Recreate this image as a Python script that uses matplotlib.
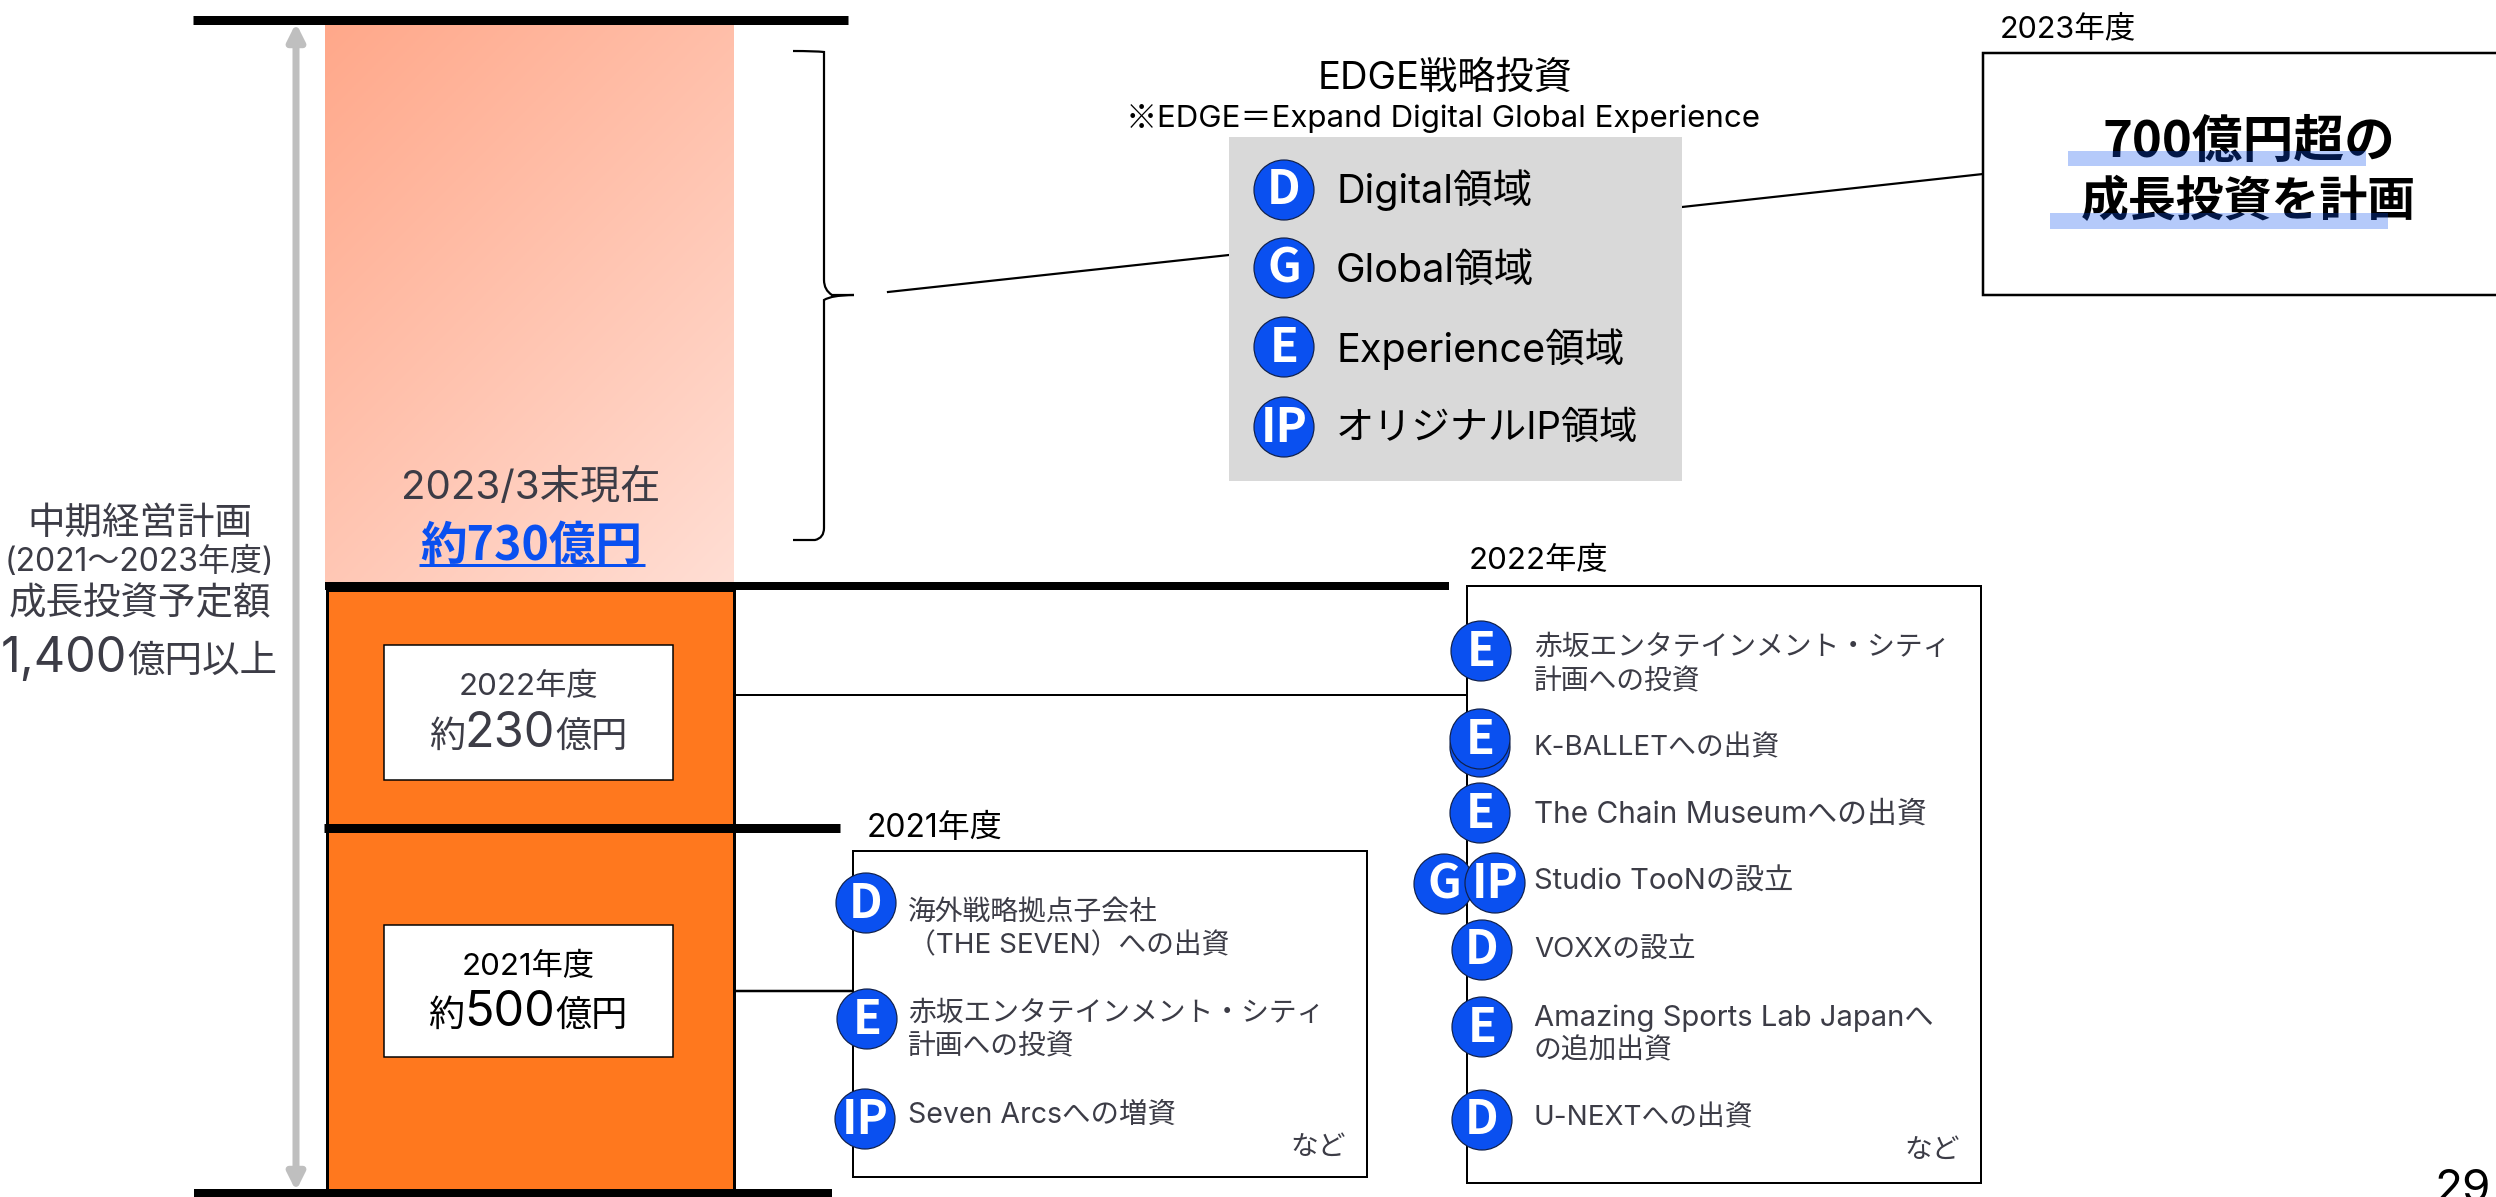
import matplotlib
matplotlib.use("Agg")
import matplotlib.pyplot as plt
import numpy as np
from matplotlib.patches import Rectangle, Circle, PathPatch
from matplotlib.path import Path

plt.rcParams['font.family'] = ['Inter', 'Noto Sans CJK JP', 'DejaVu Sans']
BOLD_FAMILY = ['Noto Sans CJK JP', 'DejaVu Sans']

W, H = 2496, 1197
TEXT_DARK = "#3c3c46"
BLUE = "#0a50f0"
ORANGE = "#ff781e"

# values and labels
years = ["2021年度", "2022年度", "2023年度"]
amounts = ["500", "230", "730"]
edge_letters = ["D", "G", "E", "IP"]
edge_labels = ["Digital領域", "Global領域", "Experience領域", "オリジナルIP領域"]

items_2021 = [
    ("D", "海外戦略拠点子会社"),
    ("", "（THE SEVEN）への出資"),
    ("E", "赤坂エンタテインメント・シティ"),
    ("", "計画への投資"),
    ("IP", "Seven Arcsへの増資"),
]
items_2022 = [
    ("E", "赤坂エンタテインメント・シティ"),
    ("", "計画への投資"),
    ("E", "K-BALLETへの出資"),
    ("E", "The Chain Museumへの出資"),
    ("IP", "Studio TooNの設立"),
    ("D", "VOXXの設立"),
    ("E", "Amazing Sports Lab Japanへ"),
    ("", "の追加出資"),
    ("D", "U-NEXTへの出資"),
]

fig = plt.figure(figsize=(W / 100, H / 100), dpi=100)
ax = fig.add_axes([0, 0, 1, 1])
ax.set_xlim(0, W)
ax.set_ylim(H, 0)
ax.axis("off")


def px(v):
    return v * 0.72


def hline(x0, x1, y, lw, color="black", z=3):
    ax.plot([x0, x1], [y, y], color=color, lw=px(lw), solid_capstyle="butt", zorder=z)


def box(x0, y0, x1, y1, face="white", edge="black", lw=2, z=2):
    ax.add_patch(Rectangle((x0, y0), x1 - x0, y1 - y0, facecolor=face, edgecolor=edge,
                           linewidth=px(lw), zorder=z))


def label(x, y, s, size, ha="left", color="black", z=6):
    return ax.text(x, y, s, fontsize=size, ha=ha, va="center", color=color, zorder=z)


def bold_label(x, y, s, size, ha="center", color="black", z=4):
    return ax.text(x, y, s, fontsize=size, ha=ha, va="center", color=color, weight="bold",
                   family=BOLD_FAMILY, zorder=z)


def badge(x, y, letter, z=5):
    ax.add_patch(Circle((x, y), 30, facecolor=BLUE, edgecolor="#10204a", linewidth=px(1.2), zorder=z))
    bold_label(x, y + 0.5, letter, 34, color="white", z=z + 0.1)


def mixed(cx, y, parts, color=TEXT_DARK):
    # parts of different size on one baseline, centred on cx
    renderer = fig.canvas.get_renderer()
    objs = []
    for s, size in parts:
        objs.append(ax.text(0, y, s, fontsize=size, ha="left", va="baseline", color=color, zorder=6))
    widths = [o.get_window_extent(renderer).width for o in objs]
    x = cx - sum(widths) / 2
    for o, w in zip(objs, widths):
        o.set_x(x)
        x += w


# gradient part of the bar (2023)
grad_x0, grad_x1, grad_y0, grad_y1 = 325, 734, 24, 582
gx, gy = np.meshgrid(np.linspace(0, 1, 200), np.linspace(0, 1, 300))
t = (gx * 0.55 + gy * 0.75) / 1.3
c0 = np.array([255, 168, 138]) / 255
c1 = np.array([255, 222, 212]) / 255
img = c0[None, None, :] + (c1 - c0)[None, None, :] * t[:, :, None]
ax.imshow(img, extent=[grad_x0, grad_x1, grad_y1, grad_y0], aspect="auto", zorder=1)
ax.set_xlim(0, W)
ax.set_ylim(H, 0)

# orange part of the bar
box(327, 590, 734, 1190, face=ORANGE, edge="black", lw=3)

# horizontal black rules
hline(193, 848, 19.5, 9)
hline(325, 1449, 586, 8)
hline(324, 840, 828, 9)
hline(194, 832, 1193, 8)

# grey double arrow
ax.annotate("", xy=(296, 23), xytext=(296, 1191),
            arrowprops=dict(arrowstyle="<|-|>,head_length=1.0,head_width=0.5", color="#bfbfbf",
                            lw=px(7), shrinkA=0, shrinkB=0), zorder=2)

# white amount boxes
box(384, 645, 673, 780, lw=1.5, z=4)
box(384, 925, 673, 1057, lw=1.5, z=4)
label(528, 686, years[1], 22.5, ha="center", color=TEXT_DARK)
mixed(528, 747, [("約", 26), (amounts[1], 35), ("億円", 26)])
label(528, 966, years[0], 22.5, ha="center")
mixed(528, 1026, [("約", 26), (amounts[0], 35), ("億円", 26)], color="black")

# 2023 label on the gradient
label(531, 488, "2023/3末現在", 29, ha="center", color=TEXT_DARK)
bold_label(531, 546, "約" + amounts[2] + "億円", 33.5, color=BLUE, z=6)
hline(419, 645, 565, 3, color=BLUE, z=6)

# left side caption
label(140, 524, "中期経営計画", 27, ha="center", color=TEXT_DARK)
label(139, 562, "(2021～2023年度)", 23, ha="center", color=TEXT_DARK)
label(140, 604, "成長投資予定額", 27, ha="center", color=TEXT_DARK)
mixed(139, 672, [("1,400", 35), ("億円以上", 27)])

# curly brace
brace = Path(
    [(793, 51), (815, 51), (824, 52), (824, 62),
     (824, 280), (824, 290), (832, 295), (854, 295),
     (832, 295), (824, 300), (824, 310),
     (824, 528), (824, 538), (815, 540), (793, 540)],
    [Path.MOVETO, Path.CURVE3, Path.CURVE3, Path.LINETO,
     Path.LINETO, Path.CURVE3, Path.CURVE3, Path.LINETO,
     Path.CURVE3, Path.CURVE3, Path.LINETO,
     Path.LINETO, Path.CURVE3, Path.CURVE3, Path.LINETO],
)
ax.add_patch(PathPatch(brace, facecolor="none", edgecolor="black", linewidth=px(2.2), zorder=3))

# connectors
ax.plot([888, 1229], [292, 255], color="black", lw=px(2.2), zorder=2)
ax.plot([1682, 1983], [207, 174], color="black", lw=px(2.2), zorder=2)
hline(734, 1467, 695, 2)
hline(734, 853, 990.5, 2.5)

# EDGE panel
label(1445, 79, "EDGE戦略投資", 27.5, ha="center")
ax.text(1126, 119, "※", fontsize=22.5, ha="left", va="center", family=BOLD_FAMILY, zorder=6)
label(1157, 119, "EDGE＝Expand Digital Global Experience", 22.5)
box(1229, 137, 1682, 481, face="#d9d9d9", edge="none", lw=0, z=2)
edge_y = [190, 268, 347, 427]
edge_text_y = [190, 271, 349, 429]
edge_text_size = [28.5, 28.5, 28.5, 27.5]
for i, letter in enumerate(edge_letters):
    badge(1284, edge_y[i], letter)
    label(1336, edge_text_y[i], edge_labels[i], edge_text_size[i])

# 2023 box
label(2000, 29, years[2], 22)
box(1983, 53, 2520, 295, lw=2.5)
bold_label(2249, 142, "700億円超の", 36.5)
bold_label(2248, 202, "成長投資を計画", 34.5)
ax.add_patch(Rectangle((2068, 151), 298, 15, facecolor=BLUE, alpha=0.3, edgecolor="none", zorder=5))
ax.add_patch(Rectangle((2050, 213), 338, 16, facecolor=BLUE, alpha=0.3, edgecolor="none", zorder=5))

# 2021 box
label(867, 828, years[0], 23)
box(853, 851, 1367, 1177, lw=2)
text_y_2021 = [913, 946, 1014, 1047.5, 1115]
size_2021 = [20, 20, 20, 20, 20.5]
badge_2021 = {0: (866, 903), 2: (867, 1019), 4: (865, 1119)}
for i, (letter, text) in enumerate(items_2021):
    label(908, text_y_2021[i], text, size_2021[i], color=TEXT_DARK)
    if letter:
        badge(badge_2021[i][0], badge_2021[i][1], letter)
label(1346, 1148, "など", 20, ha="right", color=TEXT_DARK)

# 2022 box
label(1469, 560, years[1], 22.5)
box(1467, 586, 1981, 1183, lw=2)
text_y_2022 = [647.5, 682, 748, 815, 882, 950, 1018, 1051, 1118]
size_2022 = [20, 20, 20, 21.5, 21, 20, 21, 20, 20]
badge_2022 = {0: (1481, 651), 3: (1480, 813), 5: (1482, 950), 6: (1482, 1027), 8: (1482, 1120)}
for i, (letter, text) in enumerate(items_2022):
    label(1534, text_y_2022[i], text, size_2022[i], color=TEXT_DARK)
    if letter and i in badge_2022:
        badge(badge_2022[i][0], badge_2022[i][1], letter)
badge(1480, 747, "", z=4.5)
badge(1480, 739, "E")
badge(1444, 884, "G", z=5)
badge(1495, 883, "IP", z=5.2)
label(1960, 1151, "など", 20, ha="right", color=TEXT_DARK)

# page number
label(2491, 1190, "29", 33, ha="right")

fig.savefig("out.png", dpi=100)
